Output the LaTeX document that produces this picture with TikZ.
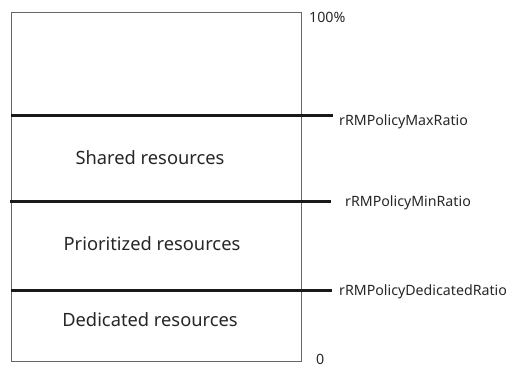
\documentclass[tikz,border=0pt]{standalone}
\usepackage{fontspec}
\setmainfont{Noto Sans}
\begin{document}
\begin{tikzpicture}[x=1pt,y=-1pt,
  frame/.style={draw=black!60, line width=0.9pt},
  level/.style={draw=black!90, line width=3pt},
  region/.style={font=\fontsize{18.3}{21}\selectfont, text=black!85, inner sep=0pt},
  ratio/.style={font=\fontsize{14.2}{16}\selectfont, text=black!85, inner sep=0pt, anchor=west}]
\path[use as bounding box] (0,0) rectangle (506,369);
\begin{scope}
\clip (0,0) rectangle (506,369);
\node[frame, minimum width=290pt, minimum height=349pt, inner sep=0pt, anchor=north west] (box) at (11,12) {};
\coordinate (maxL) at (11,115); \coordinate (maxR) at (333,115);
\coordinate (minL) at (10,201); \coordinate (minR) at (331,201);
\coordinate (dedL) at (11,290); \coordinate (dedR) at (332,290);
\draw[level] (maxL) -- (maxR);
\draw[level] (minL) -- (minR);
\draw[level] (dedL) -- (dedR);
\node[region] (shared) at (150,158) {Shared resources};
\node[region] (prio) at (152,244) {Prioritized resources};
\node[region] (ded) at (150,320) {Dedicated resources};
\node[ratio] (top) at (309,17) {100\%};
\node[ratio] (maxlab) at (339,122) {rRMPolicyMaxRatio};
\node[ratio] (minlab) at (345,203) {rRMPolicyMinRatio};
\node[ratio] (dedlab) at (339,292) {rRMPolicyDedicatedRatio};
\node[ratio] (zero) at (316,359) {0};
\end{scope}
\end{tikzpicture}
\end{document}
